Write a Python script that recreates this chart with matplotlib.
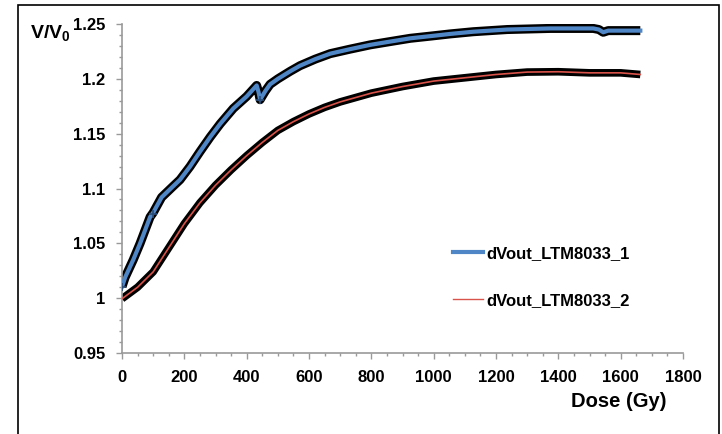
import numpy as np
import matplotlib.pyplot as plt
from matplotlib.patches import Rectangle
from matplotlib.lines import Line2D
from matplotlib.ticker import MultipleLocator
plt.switch_backend('agg')

plt.rcParams['font.family'] = ['Liberation Sans', 'DejaVu Sans']
plt.rcParams['font.weight'] = 'bold'
plt.rcParams['mathtext.fontset'] = 'custom'
plt.rcParams['mathtext.bf'] = 'Liberation Sans:bold'
plt.rcParams['mathtext.rm'] = 'Liberation Sans:bold'

# dVout_LTM8033_1 (blue)
dose1 = [0, 10, 36, 58, 74, 90, 100, 127, 160, 186, 218, 250, 283, 315, 357,
         400, 432, 438, 443, 460, 475, 500, 540, 571, 620, 668, 730, 796, 860,
         925, 990, 1053, 1127, 1236, 1374, 1512, 1530, 1544, 1560, 1600, 1663]
v1 = [1.0105, 1.019, 1.035, 1.050, 1.062, 1.074, 1.078, 1.092, 1.101, 1.108,
      1.120, 1.1336, 1.147, 1.159, 1.173, 1.184, 1.194, 1.188, 1.181, 1.189, 1.195,
      1.200, 1.207, 1.212, 1.218, 1.223, 1.227, 1.231, 1.234, 1.237, 1.239, 1.241,
      1.243, 1.245, 1.246, 1.246, 1.245, 1.2425, 1.244, 1.244, 1.244]

# dVout_LTM8033_2 (red)
dose2 = [0, 50, 100, 150, 200, 250, 300, 350, 400, 450, 500, 550, 600, 650, 700,
         800, 900, 1000, 1100, 1200, 1300, 1400, 1500, 1600, 1663]
v2 = [0.9995, 1.010, 1.024, 1.046, 1.068, 1.087, 1.103, 1.117, 1.130, 1.142, 1.153,
      1.161, 1.168, 1.174, 1.179, 1.187, 1.193, 1.198, 1.201, 1.204, 1.2062, 1.2065,
      1.2055, 1.2055, 1.204]

labels = ['dVout_LTM8033_1', 'dVout_LTM8033_2']
blue = '#4f86c6'
red = '#d9534a'

fig = plt.figure(figsize=(7.22, 4.34), dpi=100)
ax = fig.add_axes([0.169, 0.1866, 0.777, 0.758])

# black marker trail under each line
ax.plot(dose1, v1, color='black', lw=6.5, solid_capstyle='butt', solid_joinstyle='round', zorder=2)
ax.plot(dose1, v1, color=blue, lw=3, solid_joinstyle='round', zorder=3)
ax.plot(dose2, v2, color='black', lw=5.5, solid_capstyle='butt', solid_joinstyle='round', zorder=2)
ax.plot(dose2, v2, color=red, lw=1.2, zorder=3)
ax.plot([0, 100, 443], [1.0105, 1.077, 1.181], '+', color='#2a4d7a', ms=6, mew=1.2, zorder=4)

ax.set_xlim(0, 1800)
ax.set_ylim(0.95, 1.25)
ax.xaxis.set_major_locator(MultipleLocator(200))
ax.xaxis.set_minor_locator(MultipleLocator(50))
ax.yaxis.set_major_locator(MultipleLocator(0.05))
ax.yaxis.set_minor_locator(MultipleLocator(0.01))
ax.set_yticks([0.95, 1.0, 1.05, 1.1, 1.15, 1.2, 1.25])
ax.set_yticklabels(['0.95', '1', '1.05', '1.1', '1.15', '1.2', '1.25'])

for s in ['top', 'right']:
    ax.spines[s].set_visible(False)
for s in ['left', 'bottom']:
    ax.spines[s].set_color('#999999')
    ax.spines[s].set_linewidth(1.2)
ax.tick_params(which='both', direction='out', color='#999999', width=1)
ax.tick_params(which='major', length=4, labelsize=12)
ax.tick_params(which='minor', length=2.5)
ax.tick_params(axis='x', which='major', pad=8)
ax.tick_params(axis='y', which='major', pad=8)
for t in ax.get_xticklabels() + ax.get_yticklabels():
    t.set_fontweight('bold')

fig.text(0.042, 0.924, r'$\mathbf{V/V_0}$', fontsize=14, ha='left', va='center')
fig.text(0.923, 0.074, 'Dose (Gy)', fontsize=14.5, fontweight='bold', ha='right', va='center')

handles = [Line2D([], [], color=blue, lw=3), Line2D([], [], color=red, lw=1.0)]
leg = ax.legend(handles, labels, loc='center left', bbox_to_anchor=(0.59, 0.231),
                frameon=False, fontsize=12, handlelength=1.8, handletextpad=0.2,
                labelspacing=1.9, borderpad=0, borderaxespad=0)
for t in leg.get_texts():
    t.set_fontweight('bold')

fig.add_artist(Rectangle((18 / 722, -0.1), (719 - 18) / 722, 1.0885, transform=fig.transFigure,
                         fill=False, ec='black', lw=1.2))

plt.savefig('out.png', dpi=100)
plt.close()
